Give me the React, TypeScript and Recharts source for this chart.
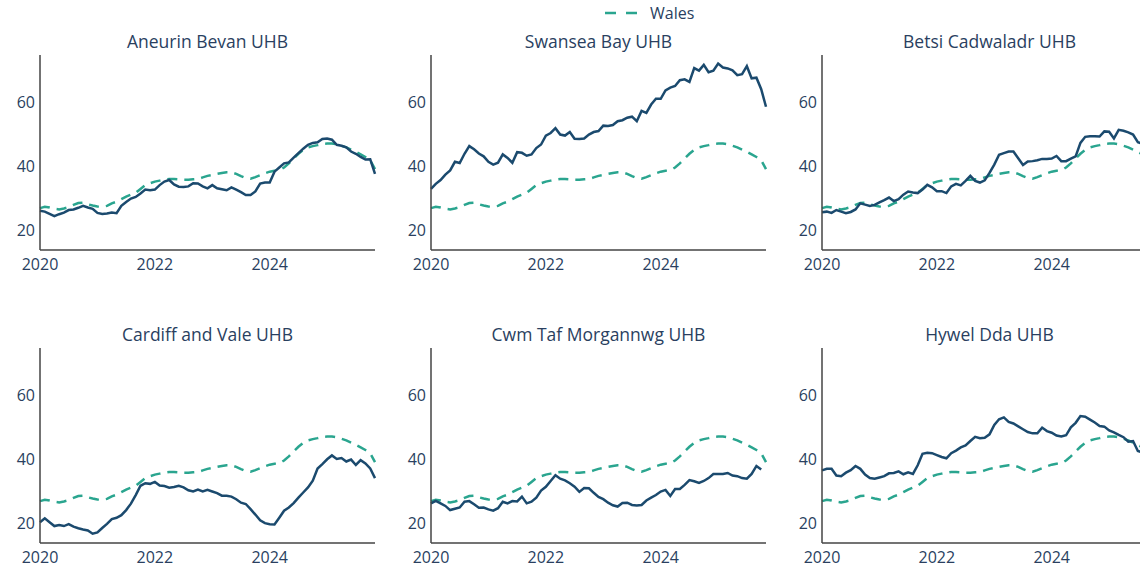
import React from 'react';
import { LineChart, Line, XAxis, YAxis } from 'recharts';

// monthly, Jan 2020 .. Nov 2025
const months: string[] = [];
for (let y = 2020; y <= 2025; y++) {
    for (let m = 1; m <= 12; m++) {
        if (y === 2025 && m > 11) break;
        months.push(`${y}-${String(m).padStart(2, '0')}`);
    }
}

const wales = [
    26.8, 27.2, 27.0, 26.6, 26.4, 26.7, 27.1, 27.8, 28.4, 28.5, 28.0, 27.6,
    27.3, 27.2, 27.5, 28.3, 28.8, 29.6, 30.4, 31.0, 31.6, 32.8, 34.0, 34.6,
    35.1, 35.4, 35.7, 35.9, 35.9, 35.8, 35.7, 35.7, 35.8, 35.9, 36.4, 36.9,
    37.2, 37.5, 37.8, 38.0, 38.0, 37.5, 36.8, 36.2, 36.0, 36.5, 37.1, 37.7,
    38.2, 38.5, 38.6, 39.5, 40.8, 42.3, 43.8, 45.0, 45.8, 46.2, 46.5, 46.9,
    47.0, 47.0, 46.8, 46.3, 45.8, 45.1, 44.4, 43.6, 42.8, 41.8, 39.0,
];

const aneurinBevan = [
    26.0, 25.7, 25.0, 24.3, 24.9, 25.4, 26.2, 26.4, 26.9, 27.5, 27.0, 26.6,
    25.3, 25.0, 25.1, 25.4, 25.2, 27.5, 28.7, 29.8, 30.3, 31.4, 32.6, 32.4,
    32.6, 34.0, 35.1, 35.6, 34.2, 33.5, 33.4, 33.6, 34.6, 34.5, 33.6, 33.0,
    34.0, 33.0, 32.7, 32.4, 33.3, 32.6, 31.8, 30.9, 30.9, 32.0, 34.5, 34.8,
    34.8, 38.2, 39.5, 40.8, 41.1, 42.6, 44.0, 45.4, 46.6, 47.2, 47.4, 48.4,
    48.6, 48.2, 46.6, 46.3, 45.8, 44.5, 43.8, 42.8, 42.0, 42.1, 37.5,
];

const swanseaBay = [
    32.8, 34.4, 35.6, 37.3, 38.6, 41.3, 40.9, 43.8, 46.2, 45.2, 43.9, 43.0,
    41.3, 40.4, 41.0, 43.6, 42.5, 41.0, 44.3, 44.1, 43.2, 43.6, 45.6, 46.7,
    49.5, 50.3, 51.8, 49.8, 49.5, 50.6, 48.5, 48.4, 48.6, 49.8, 50.6, 50.9,
    52.6, 52.5, 52.8, 54.0, 54.3, 55.1, 55.4, 54.0, 57.2, 56.6, 59.2, 61.0,
    61.0, 63.6, 64.5, 65.0, 66.8, 67.1, 66.3, 70.6, 69.8, 71.6, 69.3, 69.8,
    72.0, 70.8, 70.5, 69.9, 68.4, 68.7, 71.2, 67.4, 67.6, 64.0, 58.5,
];

const betsiCadwaladr = [
    25.5, 25.7, 25.3, 26.2, 25.7, 25.2, 25.6, 26.4, 28.3, 27.9, 27.5, 27.8,
    28.6, 29.3, 30.1, 29.0, 29.6, 31.0, 32.0, 31.7, 31.5, 32.6, 34.1, 33.3,
    32.1, 32.1, 31.5, 33.6, 34.4, 33.9, 35.3, 36.9, 35.3, 34.8, 35.5, 37.8,
    40.4, 43.5, 44.0, 44.5, 44.5, 42.4, 40.3, 41.4, 41.5, 41.8, 42.2, 42.2,
    42.3, 43.1, 41.5, 41.5, 42.3, 43.0, 47.2, 49.1, 49.3, 49.3, 49.2, 50.8,
    50.7, 48.6, 51.3, 51.0, 50.5, 49.8, 47.4, 47.0, 46.5, 45.8, 43.5,
];

const cardiffVale = [
    20.2, 21.4, 20.2, 19.0, 19.3, 19.0, 19.6, 18.8, 18.3, 17.9, 17.6, 16.6,
    17.0, 18.4, 19.7, 21.2, 21.6, 22.4, 24.0, 26.0, 28.7, 31.6, 32.4, 32.2,
    32.8, 31.7, 31.5, 31.0, 31.2, 31.6, 31.1, 30.2, 29.8, 30.4, 29.8, 30.3,
    29.8, 29.3, 28.5, 28.5, 28.2, 27.4, 26.3, 25.9, 24.3, 22.6, 20.8, 19.9,
    19.6, 19.5, 21.6, 23.8, 24.8, 26.2, 27.9, 29.5, 31.1, 33.2, 37.0, 38.4,
    39.9, 41.1, 40.0, 40.3, 39.2, 39.8, 38.1, 39.6, 38.6, 37.0, 34.0,
];

const cwmTaf = [
    26.1, 26.9, 26.1, 25.3, 24.0, 24.4, 24.8, 26.6, 26.8, 25.8, 24.7, 24.8,
    24.2, 23.8, 24.6, 26.6, 26.1, 26.8, 26.7, 28.2, 26.1, 26.6, 27.9, 30.1,
    31.3, 33.1, 34.9, 33.8, 33.3, 32.4, 31.3, 29.7, 30.9, 30.8, 29.4, 28.1,
    27.4, 26.3, 25.5, 25.1, 26.2, 26.3, 25.6, 25.4, 25.6, 27.0, 27.9, 28.7,
    29.8, 30.3, 28.4, 30.6, 30.6, 31.9, 33.4, 33.0, 32.5, 33.1, 34.0, 35.3,
    35.3, 35.3, 35.6, 34.8, 34.6, 34.0, 33.8, 35.3, 37.8, 36.7, null,
];

const hywelDda = [
    36.4, 36.9, 36.9, 34.8, 34.6, 35.7, 36.5, 37.8, 36.9, 35.1, 34.0, 33.8,
    34.2, 34.6, 35.5, 35.6, 36.1, 35.2, 35.8, 35.3, 38.0, 41.6, 41.9, 41.8,
    41.2, 40.6, 40.2, 41.8, 42.6, 43.6, 44.2, 45.6, 46.9, 46.5, 46.6, 47.7,
    50.6, 52.4, 53.0, 51.6, 51.1, 50.2, 49.3, 48.4, 48.0, 48.0, 49.8, 48.7,
    48.2, 47.3, 47.0, 47.4, 49.9, 51.3, 53.4, 53.2, 52.3, 51.4, 50.3, 50.1,
    48.9, 48.3, 47.5, 46.8, 45.4, 45.6, 42.5, 42.0, 41.5, 40.8, 39.0,
];

const panels = [
    { title: 'Aneurin Bevan UHB', values: aneurinBevan },
    { title: 'Swansea Bay UHB', values: swanseaBay },
    { title: 'Betsi Cadwaladr UHB', values: betsiCadwaladr },
    { title: 'Cardiff and Vale UHB', values: cardiffVale },
    { title: 'Cwm Taf Morgannwg UHB', values: cwmTaf },
    { title: 'Hywel Dda UHB', values: hywelDda },
];

const xTicks = [2020, 2022, 2024];
const yTicks = [20, 40, 60];

const NAVY = '#1b4a6e';
const TEAL = '#2aa58f';
const TEXT = '#2a3f5f';
const FONT = '"Open Sans", "DejaVu Sans", sans-serif';

const toYear = (m: string) => {
    const [y, mo] = m.split('-').map(Number);
    return y + (mo - 1) / 12;
};

const Panel = ({ title, values, left, top }: { title: string; values: (number | null)[]; left: number; top: number }) => {
    const data = months.map((m, i) => ({ t: toYear(m), region: values[i], wales: wales[i] }));
    const tick = { fill: TEXT, fontSize: 16, fontFamily: FONT };
    return (
        <>
            <div
                style={{
                    position: 'absolute',
                    left,
                    width: 335,
                    top: top - 26,
                    textAlign: 'center',
                    fontFamily: FONT,
                    fontSize: 17.5,
                    color: TEXT,
                    whiteSpace: 'nowrap',
                }}
            >
                {title}
            </div>
            <div style={{ position: 'absolute', left: left - 40, top: top - 5 }}>
                <LineChart width={380} height={230} data={data} margin={{ top: 5, right: 5, left: 0, bottom: 0 }}>
                    <XAxis
                        dataKey="t"
                        type="number"
                        domain={[toYear(months[0]), toYear(months[months.length - 1])]}
                        ticks={xTicks}
                        tickLine={false}
                        tickSize={0}
                        tickMargin={9}
                        axisLine={{ stroke: '#444', strokeWidth: 1.5 }}
                        tick={tick}
                        height={30}
                        interval={0}
                    />
                    <YAxis
                        type="number"
                        domain={[13.7, 74.7]}
                        ticks={yTicks}
                        tickLine={false}
                        tickSize={0}
                        tickMargin={5}
                        axisLine={{ stroke: '#444', strokeWidth: 1.5 }}
                        tick={tick}
                        width={40}
                        allowDataOverflow
                    />
                    <Line
                        dataKey="wales"
                        stroke={TEAL}
                        strokeWidth={2.5}
                        strokeDasharray="10 7"
                        dot={false}
                        type="linear"
                        isAnimationActive={false}
                    />
                    <Line
                        dataKey="region"
                        stroke={NAVY}
                        strokeWidth={2.5}
                        dot={false}
                        type="linear"
                        isAnimationActive={false}
                    />
                </LineChart>
            </div>
        </>
    );
};

const colsX = [40, 431, 822];
const rowsY = [55, 348];

export default function App() {
    return (
        <div
            style={{
                position: 'absolute',
                left: 0,
                top: 0,
                width: 1140,
                height: 566,
                overflow: 'hidden',
                background: '#fff',
            }}
        >
            <div style={{ position: 'absolute', left: 605, top: 2, display: 'flex', alignItems: 'center' }}>
                <svg width={34} height={20}>
                    <line x1={0} y1={10} x2={33} y2={10} stroke={TEAL} strokeWidth={2.5} strokeDasharray="11 10" />
                </svg>
                <span style={{ marginLeft: 11, fontFamily: FONT, fontSize: 16, color: TEXT }}>Wales</span>
            </div>
            {panels.map((p, i) => (
                <Panel key={p.title} title={p.title} values={p.values} left={colsX[i % 3]} top={rowsY[Math.floor(i / 3)]} />
            ))}
        </div>
    );
}
